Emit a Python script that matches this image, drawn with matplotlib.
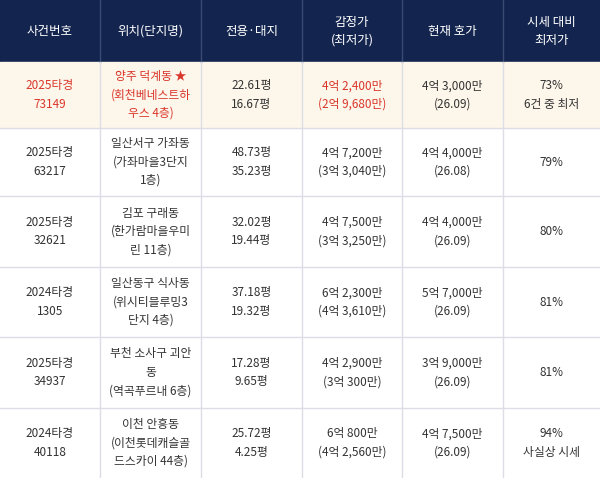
import matplotlib.pyplot as plt

plt.rcParams['font.family'] = ['Noto Sans CJK KR', 'DejaVu Sans']

headers = ["사건번호", "위치(단지명)", "전용·대지", "감정가\n(최저가)", "현재 호가", "시세 대비\n최저가"]
case_no = ["2025타경\n73149", "2025타경\n63217", "2025타경\n32621", "2024타경\n1305", "2025타경\n34937", "2024타경\n40118"]
location = ["양주 덕계동 ★\n(회천베네스트하\n우스 4층)", "일산서구 가좌동\n(가좌마을3단지\n1층)",
            "김포 구래동\n(한가람마을우미\n린 11층)", "일산동구 식사동\n(위시티블루밍3\n단지 4층)",
            "부천 소사구 괴안\n동\n(역곡푸르내 6층)", "이천 안흥동\n(이천롯데캐슬골\n드스카이 44층)"]
area = ["22.61평\n16.67평", "48.73평\n35.23평", "32.02평\n19.44평", "37.18평\n19.32평", "17.28평\n9.65평", "25.72평\n4.25평"]
appraisal = ["4억 2,400만\n(2억 9,680만)", "4억 7,200만\n(3억 3,040만)", "4억 7,500만\n(3억 3,250만)",
             "6억 2,300만\n(4억 3,610만)", "4억 2,900만\n(3억 300만)", "6억 800만\n(4억 2,560만)"]
asking = ["4억 3,000만\n(26.09)", "4억 4,000만\n(26.08)", "4억 4,000만\n(26.09)",
          "5억 7,000만\n(26.09)", "3억 9,000만\n(26.09)", "4억 7,500만\n(26.09)"]
ratio = ["73%\n6건 중 최저", "79%", "80%", "81%", "81%", "94%\n사실상 시세"]

col_edges = [0, 100, 201, 302, 402, 503, 600]
row_edges = [0, 62, 128, 196, 267, 337, 408, 478]

fig = plt.figure(figsize=(6, 4.78), dpi=100)
ax = fig.add_axes([0, 0, 1, 1])
ax.set_xlim(0, 600)
ax.set_ylim(478, 0)
ax.axis("off")

# header
ax.fill_between([0, 600], 0, 62, color="#13254f")
for i, h in enumerate(headers):
    xc = (col_edges[i] + col_edges[i + 1]) / 2
    ax.text(xc, 31, h, color="white", ha="center", va="center", fontsize=9, linespacing=1.5)

# highlight first row
ax.fill_between([0, 600], row_edges[1], row_edges[2], color="#fdf6ea")

columns = [case_no, location, area, appraisal, asking, ratio]
for r in range(len(case_no)):
    yc = (row_edges[r + 1] + row_edges[r + 2]) / 2
    for c, col in enumerate(columns):
        xc = (col_edges[c] + col_edges[c + 1]) / 2
        color = "#333333"
        if r == 0 and c in (0, 1, 3):
            color = "#d9362b"
        ax.text(xc, yc, col[r], color=color, ha="center", va="center", fontsize=8.5, linespacing=1.55)

# grid lines
for y in row_edges[2:-1]:
    ax.plot([0, 600], [y, y], color="#dcdde6", lw=1)
for x in col_edges[1:-1]:
    ax.plot([x, x], [0, 62], color="#3a4a70", lw=1)
    ax.plot([x, x], [62, 478], color="#dcdde6", lw=1)

fig.savefig("out.png", dpi=100)
